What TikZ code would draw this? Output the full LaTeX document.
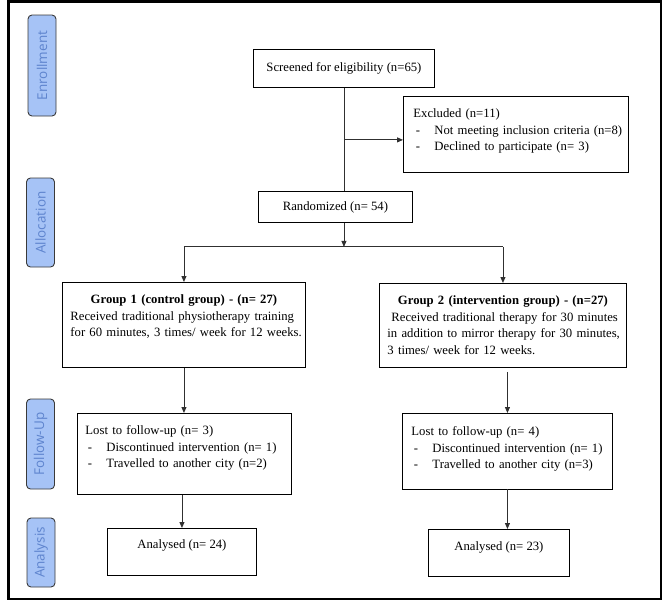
\documentclass[tikz,border=0pt]{standalone}
\usepackage{fontspec}
\setmainfont{Liberation Serif}
\newfontfamily\sidefont{Open Sans}
\usetikzlibrary{arrows.meta}
\definecolor{sidefill}{HTML}{A6C3F6}
\definecolor{sidetext}{HTML}{5E84CE}
\definecolor{sideedge}{HTML}{3A3A3A}
\definecolor{linecol}{HTML}{303030}
\newcommand\dashitem{\hspace*{2.5pt}\makebox[18.5pt][l]{-}}
\begin{document}
\begin{tikzpicture}[x=1pt,y=-1pt,
  every node/.style={font=\fontsize{12.7}{16.5}\selectfont},
  box/.style={draw=black, line width=0.9pt, inner sep=0pt, anchor=north west},
  arr/.style={draw=linecol, line width=0.9pt, -{Triangle[length=6pt,width=5pt]}},
  conn/.style={draw=linecol, line width=0.9pt},
  side/.style={draw=sideedge, fill=sidefill, line width=0.9pt, rounded corners=4pt,
    rotate=90, inner sep=0pt, minimum height=28pt, text=sidetext,
    font=\sidefont\fontsize{13.5}{16}\selectfont}]
\useasboundingbox (0,0) rectangle (669,606);
\draw[line width=2.6pt] (8.3,1.5) rectangle (661,598.8);

% phase labels
\node[side, minimum width=101pt] (enr) at (42,65.5) {Enrollment};
\node[side, minimum width=89pt] (alc) at (40.5,222.5) {Allocation};
\node[side, minimum width=90pt] (fol) at (40.5,444) {Follow-Up};
\node[side, minimum width=69pt] (ana) at (41,552.5) {Analysis};

% boxes
\node[box, minimum width=181pt, minimum height=38pt] (scr) at (253,49) {Screened for eligibility (n=65)};
\node[box, text width=225pt, text height=21.3pt, text depth=54.7pt] (exc) at (403,96)
  {\raggedright\hspace*{10pt}Excluded (n=11)\\
   \hspace*{10pt}\dashitem Not meeting inclusion criteria (n=8)\\
   \hspace*{10pt}\dashitem Declined to participate (n= 3)};
\node[box, minimum width=154pt, minimum height=31pt] (rnd) at (258,191) {Randomized (n= 54)};
\node[box, text width=243pt, text height=21.3pt, text depth=63.7pt] (g1) at (62,282)
  {\centering\bfseries Group 1 (control group) - (n= 27)\par
   \raggedright\mdseries\hspace*{8pt}Received traditional physiotherapy training\\
   \hspace*{8pt}for 60 minutes, 3 times/ week for 12 weeks.};
\node[box, text width=247pt, text height=21.3pt, text depth=62.7pt] (g2) at (379,283)
  {\centering\bfseries Group 2 (intervention group) - (n=27)\par
   \raggedright\mdseries\hspace*{12pt}Received traditional therapy for 30 minutes\\
   \hspace*{8pt}in addition to mirror therapy for 30 minutes,\\
   \hspace*{8pt}3 times/ week for 12 weeks.};
\node[box, text width=214pt, text height=21.3pt, text depth=59.7pt] (l1) at (77,413)
  {\raggedright\hspace*{8pt}Lost to follow-up (n= 3)\\
   \hspace*{8pt}\dashitem Discontinued intervention (n= 1)\\
   \hspace*{8pt}\dashitem Travelled to another city (n=2)};
\node[box, text width=210pt, text height=22.3pt, text depth=53.2pt] (l2) at (402,413)
  {\raggedright\hspace*{9pt}Lost to follow-up (n= 4)\\
   \hspace*{9pt}\dashitem Discontinued intervention (n= 1)\\
   \hspace*{9pt}\dashitem Travelled to another city (n=3)};
\node[box, minimum width=149pt, text height=20.5pt, text depth=26.5pt] (a1) at (107,528) {Analysed (n= 24)};
\node[box, minimum width=141pt, text height=21.3pt, text depth=25.7pt] (a2) at (428,529) {Analysed (n= 23)};

% connectors
\path (scr.south) ++(0,52) coordinate (j1);
\draw[conn] (scr.south) -- (scr.south |- rnd.north);
\draw[arr] (j1) -- (j1 -| exc.west);
\path (scr.south |- rnd.south) ++(0,24) coordinate (bar);
\draw[arr] (scr.south |- rnd.south) -- (bar);
\draw[conn] (g1.north |- bar) -- (g2.north |- bar);
\draw[arr] (g1.north |- bar) -- (g1.north);
\draw[arr] (g2.north |- bar) -- (g2.north);
\draw[arr] (g1.south) -- (g1.south |- l1.north);
\draw[arr] ([yshift=-4pt]g2.south -| l2.north) -- (l2.north);
\draw[arr] (l1.south -| a1.north) -- (a1.north);
\draw[arr] (l2.south) -- (l2.south |- a2.north);
\end{tikzpicture}
\end{document}
